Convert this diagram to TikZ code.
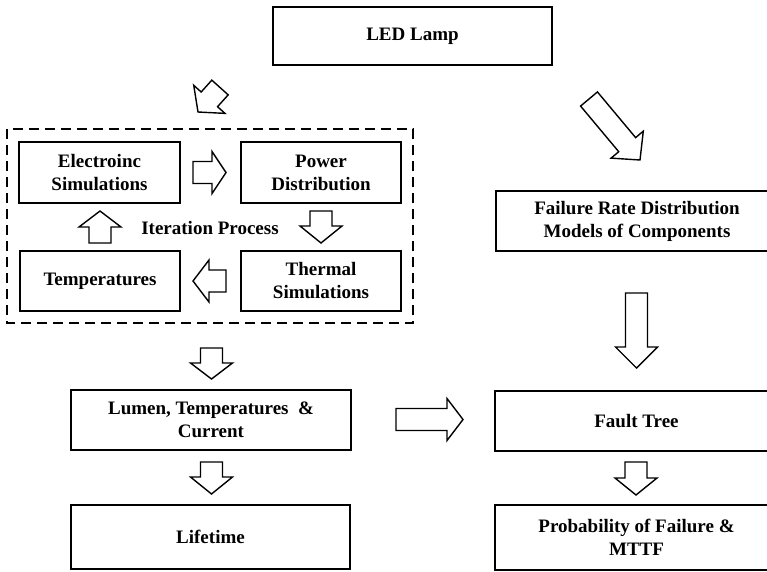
\documentclass[tikz,border=0pt]{standalone}
\usepackage{fontspec}
\setmainfont{Liberation Serif}
\usetikzlibrary{calc}
\tikzset{box/.style = {draw, line width=1.8pt, align=center, inner sep=2pt, font=\fontsize{19}{23}\selectfont\bfseries}}
\tikzset{steptext/.style = {font=\fontsize{19}{23}\selectfont\bfseries}}
\tikzset{blockline/.style = {line width=1.4pt, line join=miter, fill=white}}
\newcommand{\blockarrow}[3][16]{
   \coordinate (ahead) at ($(#3)!#1pt!(#2)$);
   \draw[blockline] ($(#2)!11pt!90:(#3)$) -- ($(ahead)!11pt!90:(#3)$) -- ($(ahead)!21pt!90:(#3)$) -- (#3)
      -- ($(ahead)!21pt!-90:(#3)$) -- ($(ahead)!11pt!-90:(#3)$) -- ($(#2)!11pt!-90:(#3)$) -- cycle;
}

\begin{document}
\begin{tikzpicture}[x=1pt, y=-1pt]
		\useasboundingbox (0,0) rectangle (767,571);
		\clip (0,0) rectangle (767,571);
		
		% Lamp
		\node[box, minimum width=279pt, minimum height=58pt] (lamp) at (412.5,36) {LED Lamp};
		
		% Iteration loop
		\draw[line width=1.8pt, dash pattern=on 10pt off 6pt] (7,129) rectangle (413,323);
		\node[box, minimum width=161pt, minimum height=61pt] (elec) at (99.5,172.5) {Electroinc\\Simulations};
		\node[box, minimum width=160pt, minimum height=61pt] (power) at (321,172.5) {Power\\Distribution};
		\node[box, minimum width=160pt, minimum height=60pt] (thermal) at (321,281) {Thermal\\Simulations};
		\node[box, minimum width=160pt, minimum height=60pt] (temp) at (100,281) {Temperatures};
		\node[steptext] (iter) at (210,228) {Iteration Process};
		
		% Lifetime branch
		\node[box, minimum width=280pt, minimum height=60pt] (lumen) at (211,420) {Lumen, Temperatures~~\&\\Current};
		\node[box, minimum width=279pt, minimum height=64pt] (life) at (210.5,537) {Lifetime};
		
		% Failure branch
		\node[box, minimum width=282pt, minimum height=60pt] (rate) at (637,221) {Failure Rate Distribution\\Models of Components};
		\node[box, minimum width=283pt, minimum height=60pt] (fault) at (636.5,421) {Fault Tree};
		\node[box, minimum width=283pt, minimum height=65pt] (prob) at (636.5,537.5) {Probability of Failure \&\\MTTF};
		
		% Arrow ends
		\coordinate (sw1) at (220,87.5);   \coordinate (sw2) at (198,112);
		\coordinate (se1) at (589,99);     \coordinate (se2) at (640,160);
		\coordinate (ep1) at (193,172.5);  \coordinate (ep2) at (226,172.5);
		\coordinate (pt1) at (321,211);    \coordinate (pt2) at (321,243);
		\coordinate (tt1) at (226,281);    \coordinate (tt2) at (193,281);
		\coordinate (te1) at (100,243);    \coordinate (te2) at (100,211);
		\coordinate (dl1) at (211.5,348);  \coordinate (dl2) at (211.5,379);
		\coordinate (ll1) at (211.5,462);  \coordinate (ll2) at (211.5,494);
		\coordinate (lf1) at (396,419.5);  \coordinate (lf2) at (463,419.5);
		\coordinate (rf1) at (636.5,293);  \coordinate (rf2) at (636.5,368);
		\coordinate (fp1) at (636,462);    \coordinate (fp2) at (636,495);
		
		% Arrows
		\blockarrow[17]{sw1}{sw2}
		\blockarrow[20]{se1}{se2}
		\blockarrow[14]{ep1}{ep2}
		\blockarrow[17]{pt1}{pt2}
		\blockarrow[16]{tt1}{tt2}
		\blockarrow[16]{te1}{te2}
		\blockarrow[16]{dl1}{dl2}
		\blockarrow[17]{ll1}{ll2}
		\blockarrow[16]{lf1}{lf2}
		\blockarrow[21]{rf1}{rf2}
		\blockarrow[17]{fp1}{fp2}
	\end{tikzpicture}
\end{document}
